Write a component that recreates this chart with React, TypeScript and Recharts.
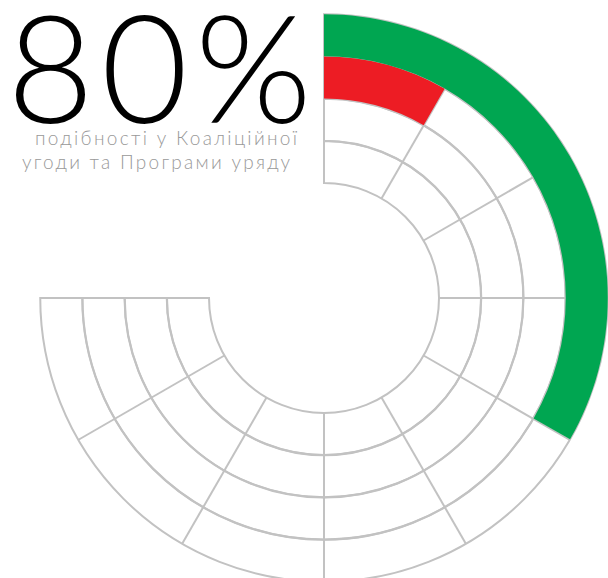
import React from 'react';
import { RadialBarChart, RadialBar, PolarAngleAxis, PolarGrid, Cell } from 'recharts';

document.body.style.margin = '0';

// rings, inner to outer
const bands = ['b1', 'b2', 'b3', 'b4'];
const values = [0, 0, 11.1, 44.4];
const colors = ['none', 'none', '#ED1C24', '#00A651'];
const spokeAngles = [90, 60, 30, 0, -30, -60, -90, -120, -150, -180];

const headline = '80%';
const subtitle = ['подібності у Коаліційної', 'угоди та Програми уряду'];

const data = bands.map((name, i) => ({ name, value: values[i] }));

export default function App() {
  return (
    <RadialBarChart
      width={608}
      height={578}
      data={data}
      cx={324}
      cy={298}
      innerRadius={115}
      outerRadius={284}
      startAngle={90}
      endAngle={-180}
      barCategoryGap={0}
      margin={{ top: 0, right: 0, bottom: 0, left: 0 }}
    >
      <PolarAngleAxis type="number" domain={[0, 100]} tick={false} axisLine={false} />
      <PolarGrid
        gridType="circle"
        polarAngles={spokeAngles}
        polarRadius={[]}
        innerRadius={115}
        outerRadius={284}
        stroke="#c2c2c2"
        strokeWidth={2}
      />
      <RadialBar
        dataKey="value"
        isAnimationActive={false}
        background={{ fill: 'none', stroke: '#c2c2c2', strokeWidth: 2 }}
        stroke="none"
      >
        {data.map((d, i) => (
          <Cell key={d.name} fill={colors[i]} />
        ))}
      </RadialBar>
      <text x={7} y={123} fontFamily="Lato" fontWeight={300} fontSize={150} letterSpacing={7} fill="#000">
        {headline}
      </text>
      <text x={35} y={145} textLength={262} fontFamily="Lato" fontWeight={300} fontSize={19} fill="#999">
        {subtitle[0]}
      </text>
      <text x={22} y={169} textLength={268} fontFamily="Lato" fontWeight={300} fontSize={19} fill="#999">
        {subtitle[1]}
      </text>
    </RadialBarChart>
  );
}
